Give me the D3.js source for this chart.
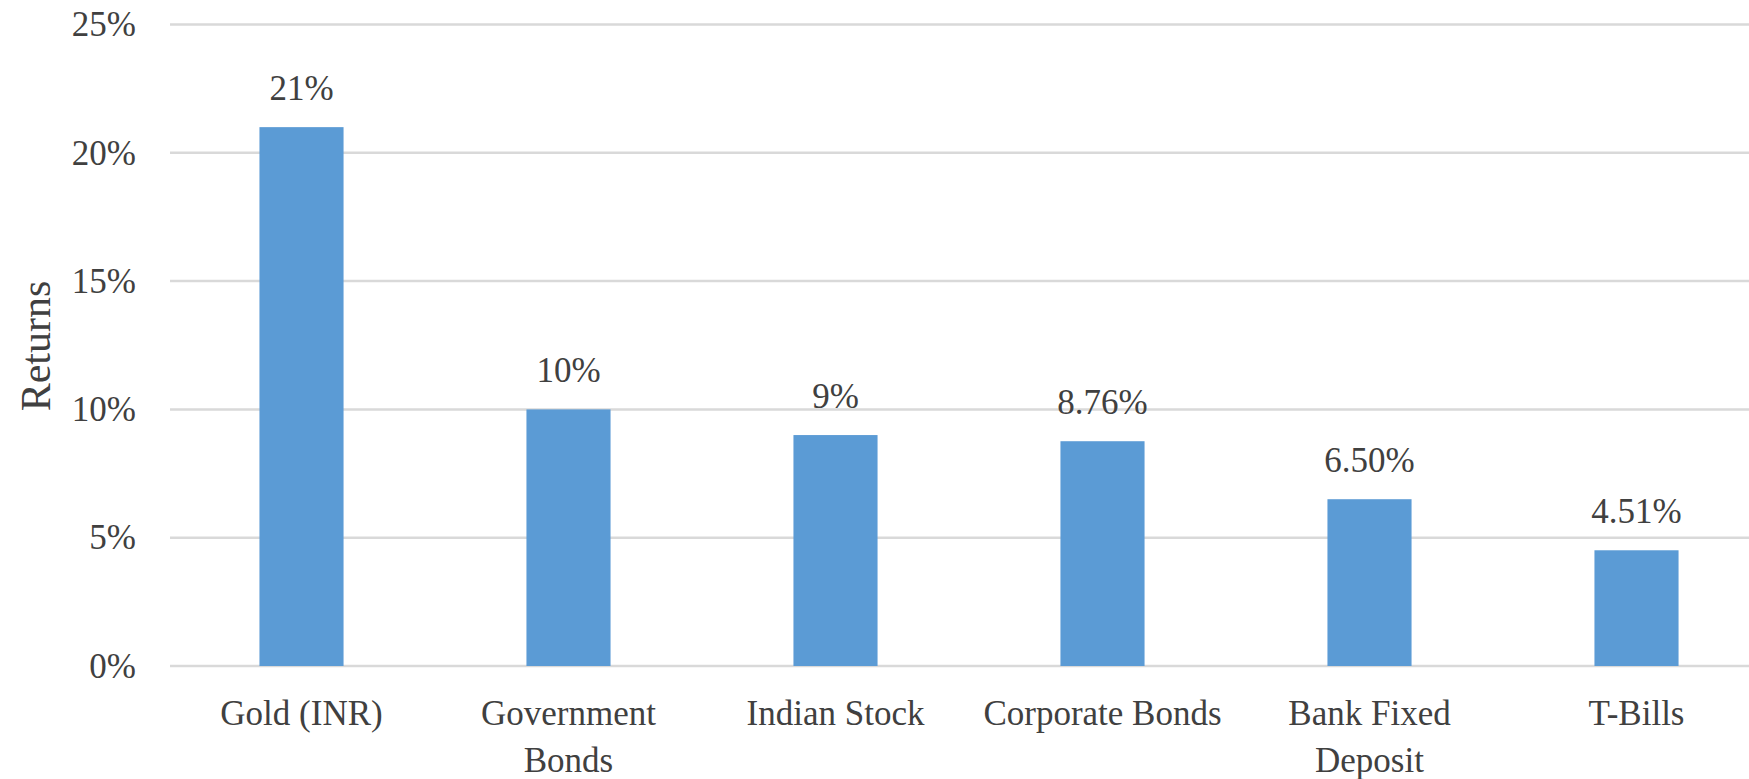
<!DOCTYPE html>
<html>
<head>
<meta charset="utf-8">
<script src="https://cdn.jsdelivr.net/npm/d3@7"></script>
<style>
  html, body { margin: 0; padding: 0; background: #fff; }
  svg { display: block; }
  text { font-family: "Liberation Serif", "Times New Roman", serif; fill: #404040; }
</style>
</head>
<body>
<svg class="bar-chart"></svg>
<script>
const categories = ['Gold (INR)', 'Government Bonds', 'Indian Stock', 'Corporate Bonds', 'Bank Fixed Deposit', 'T-Bills'];
const returns = [21, 10, 9, 8.76, 6.5, 4.51];
const valueLabels = ['21%', '10%', '9%', '8.76%', '6.50%', '4.51%'];
const yTicks = [0, 5, 10, 15, 20, 25];

const svgWidth = 1749;
const svgHeight = 779;
const margin = {top: 24.5, right: -21, bottom: 113, left: 168};
const width = svgWidth - margin.left - margin.right;
const height = svgHeight - margin.top - margin.bottom;

const data = categories.map((c, i) => ({name: c, value: returns[i], label: valueLabels[i]}));

const svg = d3.select('.bar-chart')
    .attr('width', svgWidth)
    .attr('height', svgHeight);
const g = svg.append('g')
    .attr('transform', `translate(${margin.left}, ${margin.top})`);

const x = d3.scaleBand()
    .domain(categories)
    .range([0, width])
    .paddingInner(0.685)
    .paddingOuter(0.3425);
const y = d3.scaleLinear()
    .domain([0, 25])
    .range([height, 0]);

// gridlines
g.append('g')
    .selectAll('line')
    .data(yTicks)
    .join('line')
    .attr('x1', 2)
    .attr('x2', width)
    .attr('y1', d => y(d))
    .attr('y2', d => y(d))
    .attr('stroke', '#d9d9d9')
    .attr('stroke-width', 2.5);

// y axis labels
const yAxis = g.append('g')
    .call(d3.axisLeft(y).tickValues(yTicks).tickFormat(d => d + '%').tickSize(0).tickPadding(32));
yAxis.select('.domain').remove();
yAxis.selectAll('text')
    .attr('font-size', 35)
    .attr('font-family', null)
    .attr('fill', null);

// y axis title
svg.append('text')
    .attr('transform', `translate(50, 346) rotate(-90)`)
    .attr('text-anchor', 'middle')
    .attr('font-size', 42)
    .text('Returns');

// bars
g.append('g')
    .selectAll('rect')
    .data(data)
    .join('rect')
    .attr('x', d => x(d.name))
    .attr('width', x.bandwidth())
    .attr('y', d => y(d.value))
    .attr('height', d => y(0) - y(d.value))
    .attr('fill', '#5b9bd5');

// value labels
g.append('g')
    .selectAll('text')
    .data(data)
    .join('text')
    .attr('x', d => x(d.name) + x.bandwidth() / 2)
    .attr('y', d => y(d.value) - 27)
    .attr('text-anchor', 'middle')
    .attr('font-size', 35)
    .text(d => d.label);

// x axis labels
const xAxis = g.append('g')
    .attr('transform', `translate(0, ${height})`)
    .call(d3.axisBottom(x).tickSize(0).tickPadding(0));
xAxis.select('.domain').remove();
xAxis.selectAll('text')
    .attr('font-size', 35)
    .attr('font-family', null)
    .attr('fill', null)
    .attr('dy', null)
    .attr('y', 59)
    .call(wrap, x.step());

function wrap(texts, maxWidth) {
    texts.each(function() {
        const text = d3.select(this);
        const words = text.text().split(/\s+/);
        const yPos = text.attr('y');
        let line = [];
        let lineNo = 0;
        let tspan = text.text(null).append('tspan').attr('x', 0).attr('y', yPos);
        words.forEach(word => {
            line.push(word);
            tspan.text(line.join(' '));
            if (tspan.node().getComputedTextLength() > maxWidth && line.length > 1) {
                line.pop();
                tspan.text(line.join(' '));
                line = [word];
                lineNo++;
                tspan = text.append('tspan').attr('x', 0).attr('y', +yPos + lineNo * 47).text(word);
            }
        });
    });
}
</script>
</body>
</html>
